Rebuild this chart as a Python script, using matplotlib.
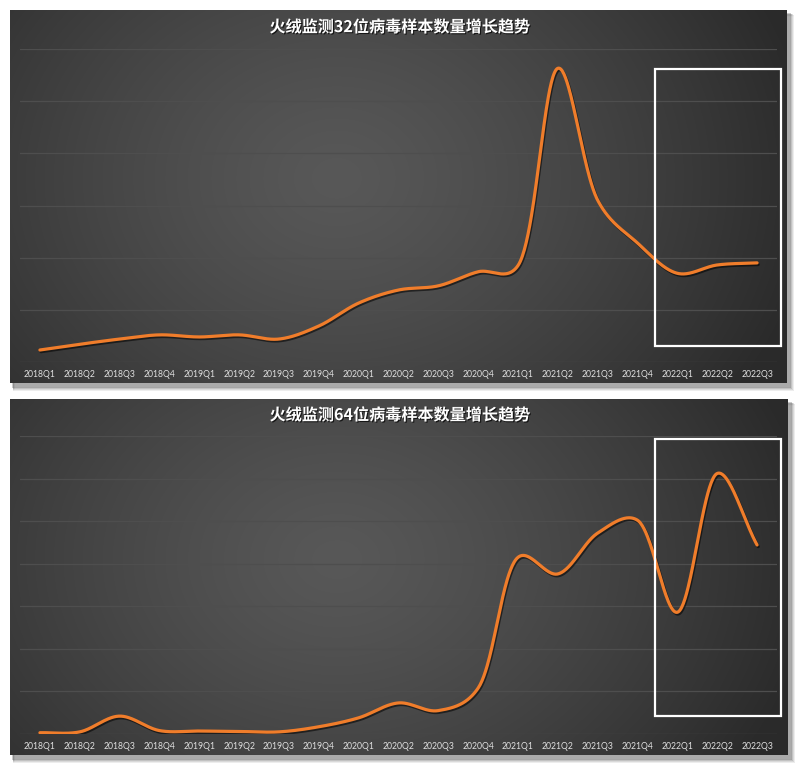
import numpy as np
import matplotlib
matplotlib.use("Agg")
import matplotlib.pyplot as plt
import matplotlib.patheffects as pe
from matplotlib.patches import Rectangle

plt.rcParams['font.family'] = ['Noto Sans CJK SC', 'DejaVu Sans']

quarters = ["2018Q1", "2018Q2", "2018Q3", "2018Q4", "2019Q1", "2019Q2", "2019Q3",
            "2019Q4", "2020Q1", "2020Q2", "2020Q3", "2020Q4", "2021Q1", "2021Q2",
            "2021Q3", "2021Q4", "2022Q1", "2022Q2", "2022Q3"]

samples_32 = [0.23, 0.34, 0.44, 0.52, 0.48, 0.52, 0.44, 0.69, 1.13, 1.38, 1.46,
              1.73, 1.85, 5.63, 3.10, 2.28, 1.70, 1.86, 1.90]
samples_64 = [0.03, 0.05, 0.42, 0.08, 0.07, 0.06, 0.05, 0.17, 0.38, 0.73, 0.55,
              1.08, 4.15, 3.76, 4.72, 5.02, 2.86, 6.12, 4.44]

title_32 = "火绒监测32位病毒样本数量增长趋势"
title_64 = "火绒监测64位病毒样本数量增长趋势"

W, H, DPI = 800, 767, 100
fig = plt.figure(figsize=(W / DPI, H / DPI), dpi=DPI)
fig.patch.set_facecolor("white")


def px_rect(x0, y0, x1, y1):
    """Figure-fraction rect from pixel box (origin top-left)."""
    return [x0 / W, 1 - y1 / H, (x1 - x0) / W, (y1 - y0) / H]


def smooth(xs, ys, sx, sy, alpha=0.3, n=50):
    """Catmull-Rom through every point, parametrised in screen units."""
    P = np.column_stack([np.asarray(xs, float) * sx, np.asarray(ys, float) * sy])
    P = np.vstack([2 * P[0] - P[1], P, 2 * P[-1] - P[-2]])
    out = []
    for i in range(1, len(P) - 2):
        p0, p1, p2, p3 = P[i - 1], P[i], P[i + 1], P[i + 2]
        t0 = 0.0
        t1 = t0 + np.linalg.norm(p1 - p0) ** alpha
        t2 = t1 + np.linalg.norm(p2 - p1) ** alpha
        t3 = t2 + np.linalg.norm(p3 - p2) ** alpha
        t = np.linspace(t1, t2, n)[:, None]
        a1 = (t1 - t) / (t1 - t0) * p0 + (t - t0) / (t1 - t0) * p1
        a2 = (t2 - t) / (t2 - t1) * p1 + (t - t1) / (t2 - t1) * p2
        a3 = (t3 - t) / (t3 - t2) * p2 + (t - t2) / (t3 - t2) * p3
        b1 = (t2 - t) / (t2 - t0) * a1 + (t - t0) / (t2 - t0) * a2
        b2 = (t3 - t) / (t3 - t1) * a2 + (t - t1) / (t3 - t1) * a3
        c = (t2 - t) / (t2 - t1) * b1 + (t - t1) / (t2 - t1) * b2
        out.append(c if i == 1 else c[1:])
    out = np.vstack(out)
    return out[:, 0] / sx, out[:, 1] / sy


def card(box):
    x0, y0, x1, y1 = box
    # soft drop shadow
    for k, a in enumerate([0.06, 0.08, 0.10, 0.14]):
        d = 4 - k
        sh = fig.add_axes(px_rect(x0 + 2 + d * 0.3, y0 + 3 + d * 0.4, x1 + 3 + d, y1 + 4 + d))
        sh.set_axis_off()
        sh.add_patch(Rectangle((0, 0), 1, 1, transform=sh.transAxes, color="black", alpha=a))
    bg = fig.add_axes(px_rect(x0, y0, x1, y1))
    bg.set_axis_off()
    w, h = int(x1 - x0), int(y1 - y0)
    gx, gy = np.meshgrid(np.arange(w), np.arange(h))
    cx, cy = w * 0.42, h * 0.45
    r = np.sqrt(((gx - cx) / (w * 0.62)) ** 2 + ((gy - cy) / (h * 1.05)) ** 2)
    r = np.clip(r, 0, 1)
    v = 0.345 - (0.345 - 0.165) * r ** 1.3
    img = np.dstack([v, v, v])
    bg.imshow(img, extent=[0, 1, 0, 1], aspect="auto", origin="upper",
              interpolation="bilinear")
    bg.set_xlim(0, 1)
    bg.set_ylim(0, 1)
    return bg


def panel(card_box, plot_box, values, ymax, title, title_y, rect_y):
    card(card_box)
    ax = fig.add_axes(px_rect(*plot_box))
    ax.set_facecolor("none")
    x = np.arange(len(quarters))
    n = len(quarters)
    ax.set_xlim(-0.5, n - 0.5)
    ax.set_ylim(0, ymax)
    for g in range(0, ymax + 1):
        ax.axhline(g, color="#4e4e4e", lw=0.9, zorder=1)
    px_per_x = (plot_box[2] - plot_box[0]) / n
    px_per_y = (plot_box[3] - plot_box[1]) / ymax
    sx, sy = smooth(x, values, px_per_x, px_per_y)
    ax.plot(sx, sy, color="#F07D2B", lw=2.3, solid_capstyle="round", zorder=3,
            path_effects=[pe.SimpleLineShadow(offset=(0.8, -1.2), shadow_color="black", alpha=0.55),
                          pe.Normal()])
    ax.add_patch(Rectangle((15.44, rect_y[0]), 18.6 - 15.44, rect_y[1] - rect_y[0],
                           fill=False, edgecolor="white", lw=1.6, zorder=4, clip_on=False))
    ax.set_xticks(x)
    ax.set_xticklabels(quarters, fontsize=6.2, color="#e0e0e0", family=["Lato", "DejaVu Sans"])
    ax.tick_params(axis="x", length=0, pad=5.5)
    ax.set_yticks([])
    for s in ax.spines.values():
        s.set_visible(False)
    fig.text(0.5, 1 - title_y / H, title, ha="center", va="center", color="white",
             fontsize=11.6, fontweight="bold",
             path_effects=[pe.withSimplePatchShadow(offset=(0.8, -0.8), shadow_rgbFace="black", alpha=0.7)])
    return ax


panel((10, 10, 787, 383), (20, 49, 777, 362), samples_32, 6, title_32, 27, (0.31, 5.61))
panel((10, 399, 788, 755), (20, 436, 777, 734), samples_64, 7, title_64, 415, (0.42, 6.92))

fig.savefig("out.png", dpi=DPI, facecolor="white")
